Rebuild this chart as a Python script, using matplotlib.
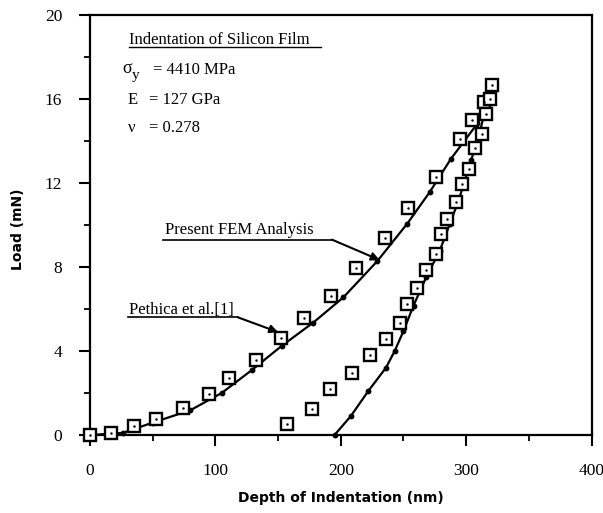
import numpy as np
import matplotlib
matplotlib.use("Agg")
import matplotlib.pyplot as plt

plt.rcParams['mathtext.fontset'] = 'stix'

# measured load-depth points, loading branch (Pethica et al.)
exp_load_x = [0, 17, 35, 53, 74, 95, 111, 132, 152, 171, 192, 212, 235, 254, 276, 295, 305, 314, 321]
exp_load_y = [0, 0.1, 0.43, 0.76, 1.3, 1.95, 2.7, 3.55, 4.6, 5.55, 6.6, 7.95, 9.4, 10.8, 12.3, 14.1, 15.0, 15.85, 16.65]

# measured unloading branch
exp_unload_x = [157, 177, 191, 209, 223, 236, 247, 253, 261, 268, 276, 280, 285, 292, 297, 302, 307, 313, 316, 319]
exp_unload_y = [0.52, 1.23, 2.18, 2.93, 3.82, 4.57, 5.31, 6.22, 6.98, 7.86, 8.63, 9.58, 10.3, 11.1, 11.97, 12.68, 13.64, 14.35, 15.3, 15.98]

# FEM curves
fem_load_x = [0, 26, 50, 80, 105, 129, 153, 178, 202, 229, 253, 271, 288, 309, 315]
fem_load_y = [0, 0.1, 0.59, 1.18, 2.0, 3.09, 4.25, 5.35, 6.55, 8.27, 10.06, 11.57, 13.16, 14.83, 15.46]

fem_unload_x = [195, 208, 222, 236, 243, 250, 258, 268, 279, 287, 294, 304, 311, 315]
fem_unload_y = [0, 0.9, 2.1, 3.2, 4.0, 4.95, 6.16, 7.5, 8.78, 10.06, 11.17, 13.08, 14.43, 15.46]

fig = plt.figure(figsize=(6.03, 5.13), dpi=100)
ax = fig.add_axes([0.1493, 0.152, 0.8317, 0.819])

for fx, fy in [(fem_load_x, fem_load_y), (fem_unload_x, fem_unload_y)]:
    ax.plot(fx, fy, color='black', lw=1.6, marker='o', ms=3.2, zorder=3, clip_on=False)

for ex, ey in [(exp_load_x, exp_load_y), (exp_unload_x, exp_unload_y)]:
    ax.plot(ex, ey, ls='none', marker='s', ms=8, mfc='white', mec='black', mew=1.7, zorder=4, clip_on=False)
    ax.plot(ex, ey, ls='none', marker='.', ms=1.5, color='black', zorder=5, clip_on=False)

ax.set_xlim(0, 400)
ax.set_ylim(0, 20)
ax.set_xticks([0, 100, 200, 300, 400])
ax.set_xticks([50, 150, 250, 350], minor=True)
ax.set_yticks([0, 4, 8, 12, 16, 20])
ax.set_yticks([2, 6, 10, 14, 18], minor=True)
ax.tick_params(which='major', direction='out', length=8, width=1.5, pad=12)
ax.tick_params(which='minor', direction='out', length=4, width=1.3)
for lab in ax.get_xticklabels() + ax.get_yticklabels():
    lab.set_fontfamily('Liberation Serif')
    lab.set_fontsize(12.5)
for sp in ax.spines.values():
    sp.set_linewidth(1.6)

ax.set_xlabel('Depth of Indentation (nm)', fontsize=10, fontweight='bold', family='DejaVu Sans', labelpad=9)
ax.set_ylabel('Load (mN)', fontsize=10, fontweight='bold', family='DejaVu Sans', labelpad=14)
ax.yaxis.label.set_y(0.49)

serif = dict(family='Liberation Serif', fontsize=12, va='center')

# material data box
ax.text(31, 18.8, 'Indentation of Silicon Film', **serif)
ax.plot([31, 184], [18.45, 18.45], color='black', lw=1.0, clip_on=False)
ax.text(26, 17.45, 'σ', family='Liberation Serif', fontsize=13, va='center')
ax.text(33, 17.1, 'y', family='Liberation Serif', fontsize=11, va='center')
ax.text(50, 17.38, '= 4410 MPa', **serif)
ax.text(30, 15.95, 'E', **serif)
ax.text(47, 15.95, '= 127 GPa', **serif)
ax.text(30, 14.62, 'ν', **serif)
ax.text(47, 14.62, '= 0.278', **serif)

# curve labels with leader arrows
ax.text(60, 9.75, 'Present FEM Analysis', **serif)
ax.plot([58, 193], [9.3, 9.3], color='black', lw=1.2)
ax.annotate('', xy=(231, 8.33), xytext=(193, 9.3),
            arrowprops=dict(arrowstyle='-|>', color='black', lw=1.5, mutation_scale=12, shrinkA=0, shrinkB=0))

ax.text(31, 5.95, 'Pethica et al.[1]', **serif)
ax.plot([30, 118], [5.6, 5.6], color='black', lw=1.2)
ax.annotate('', xy=(150, 4.9), xytext=(118, 5.6),
            arrowprops=dict(arrowstyle='-|>', color='black', lw=1.5, mutation_scale=12, shrinkA=0, shrinkB=0))

fig.savefig('out.png', dpi=100)
